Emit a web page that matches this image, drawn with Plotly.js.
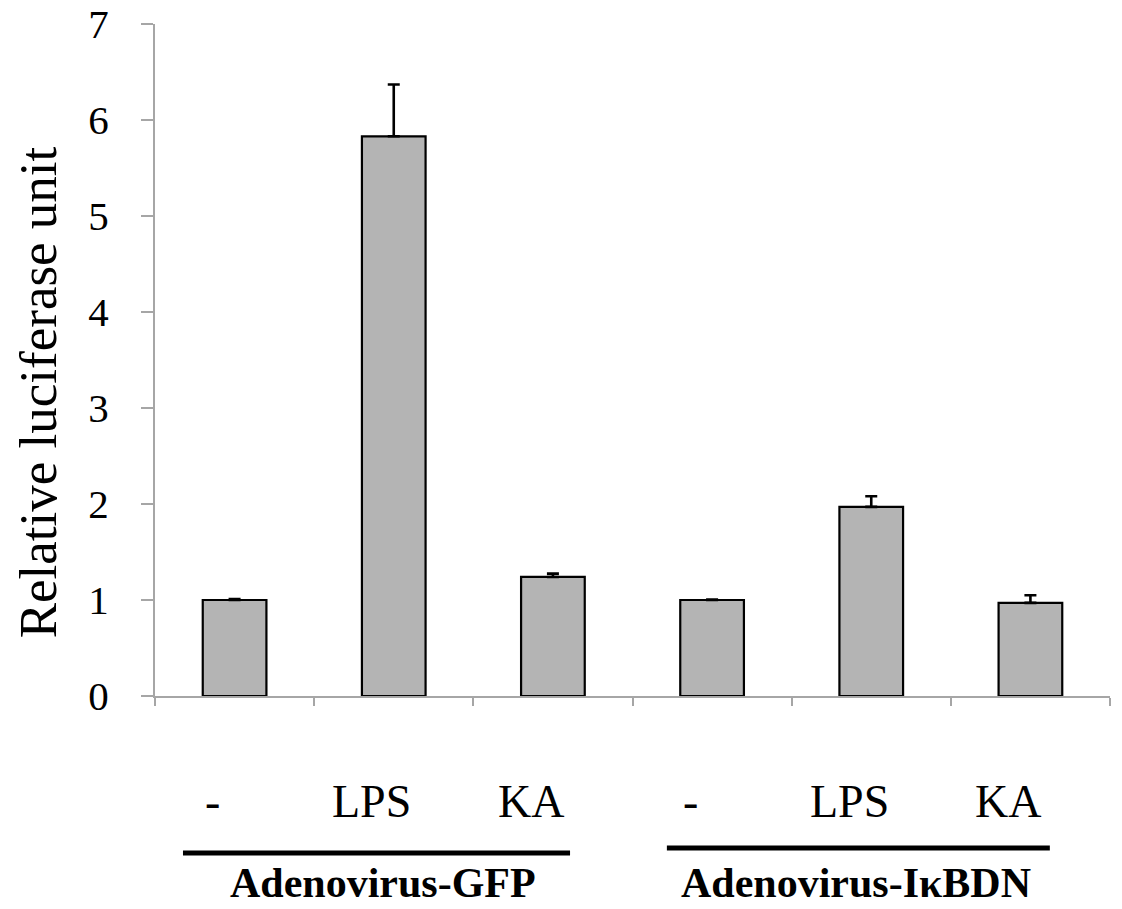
<!DOCTYPE html>
<html>
<head>
<meta charset="utf-8">
<script src="https://cdn.plot.ly/plotly-3.0.1.min.js"></script>
<style>html,body{margin:0;padding:0;background:#fff;}#chart{width:1122px;height:909px;}</style>
</head>
<body>
<div id="chart"></div>
<script>
// Data
var categories = ["GFP -", "GFP LPS", "GFP KA", "IkBDN -", "IkBDN LPS", "IkBDN KA"];
var treatmentLabels = ["-", "LPS", "KA", "-", "LPS", "KA"];
var values = [1.0, 5.83, 1.24, 1.0, 1.97, 0.97];
var errors = [0.01, 0.54, 0.035, 0.005, 0.11, 0.08];
var groupLabels = ["Adenovirus-GFP", "Adenovirus-I\u03BABDN"];
var yTicks = [0, 1, 2, 3, 4, 5, 6, 7];

var FONT = "Liberation Serif";

var trace = {
  type: "bar",
  x: categories,
  y: values,
  width: 0.4,
  marker: {color: "#b4b4b4", line: {color: "#000000", width: 2.2}},
  error_y: {type: "data", array: errors, symmetric: false, arrayminus: errors.map(function(){return 0;}), color: "#000000", thickness: 2.6, width: 6},
  hoverinfo: "none"
};

var annotations = [];
categories.forEach(function(c, i) {
  annotations.push({
    x: c, xref: "x", y: -0.157, yref: "paper", yanchor: "middle", xanchor: "center",
    xshift: -22, text: treatmentLabels[i], showarrow: false,
    font: {family: FONT, size: 46, color: "#000"}
  });
});
annotations.push({x: 0.2387, xref: "paper", y: -0.278, yref: "paper", yanchor: "middle", xanchor: "center",
  text: "<b>" + groupLabels[0] + "</b>", showarrow: false,
  font: {family: FONT, size: 42, color: "#000"}});
annotations.push({x: 0.734, xref: "paper", y: -0.278, yref: "paper", yanchor: "middle", xanchor: "center",
  text: "<b>" + groupLabels[1] + "</b>", showarrow: false,
  font: {family: FONT, size: 42, color: "#000"}});
annotations.push({x: -0.1225, xref: "paper", y: 0.452, yref: "paper", xanchor: "center", yanchor: "middle",
  textangle: -90, text: "Relative luciferase unit", showarrow: false,
  font: {family: FONT, size: 53, color: "#000"}});

var layout = {
  width: 1122, height: 909,
  margin: {l: 155, r: 12, t: 24, b: 213},
  paper_bgcolor: "#ffffff", plot_bgcolor: "#ffffff",
  showlegend: false,
  font: {family: FONT, color: "#000"},
  xaxis: {
    type: "category", range: [-0.5, 5.5], showgrid: false, zeroline: false,
    showline: true, linecolor: "#a6a6a6", linewidth: 2,
    ticks: "outside", tickson: "boundaries", ticklen: 8, tickwidth: 2, tickcolor: "#a6a6a6",
    showticklabels: false, fixedrange: true
  },
  yaxis: {
    range: [0, 7], tickvals: yTicks, ticktext: yTicks.map(String),
    showgrid: false, zeroline: false, showline: true, linecolor: "#a6a6a6", linewidth: 2,
    ticks: "outside", ticklen: 12, tickwidth: 2, tickcolor: "#a6a6a6",
    ticklabelstandoff: 24,
    tickfont: {family: FONT, size: 41, color: "#000"},
    fixedrange: true
  },
  shapes: [
    {type: "line", xref: "paper", yref: "paper", x0: 0.0293, x1: 0.4346, y0: -0.2336, y1: -0.2336, line: {color: "#000", width: 5}},
    {type: "line", xref: "paper", yref: "paper", x0: 0.536, x1: 0.937, y0: -0.2262, y1: -0.2262, line: {color: "#000", width: 5}}
  ],
  annotations: annotations
};

Plotly.newPlot("chart", [trace], layout, {displayModeBar: false, staticPlot: true});
</script>
</body>
</html>
